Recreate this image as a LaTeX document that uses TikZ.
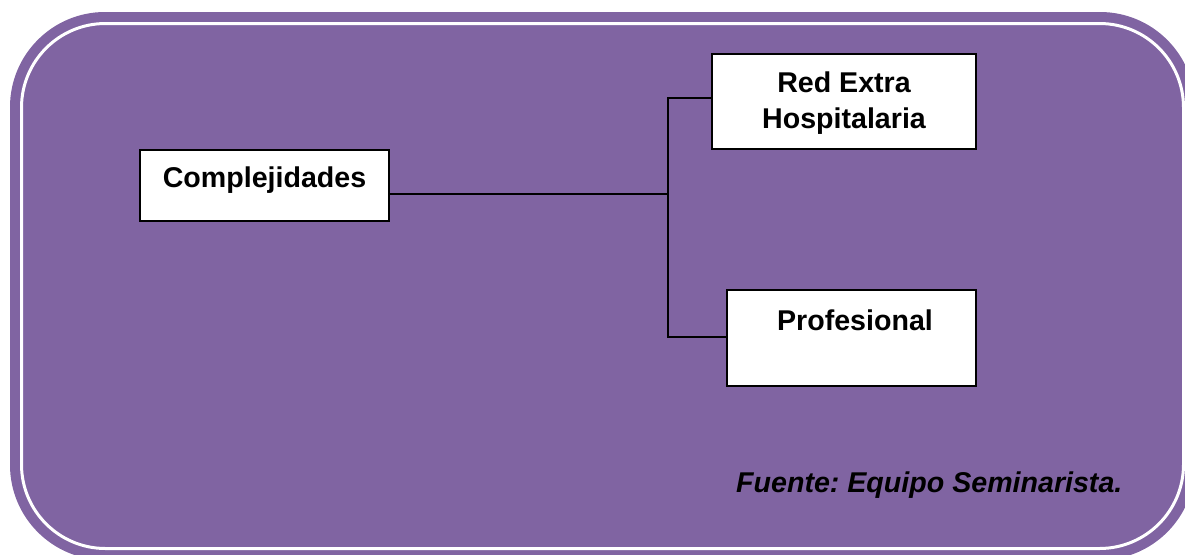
\documentclass[tikz,border=0pt]{standalone}
\usepackage{fontspec}
\setmainfont{Liberation Sans}
\definecolor{framepurple}{HTML}{8064A2}
\begin{document}
\frenchspacing
\begin{tikzpicture}[x=1pt,y=-1pt,
  box/.style={draw=black,line width=2pt,fill=white,inner sep=0pt},
  lbl/.style={inner sep=0pt,anchor=base,font=\fontsize{28.6}{36}\selectfont\bfseries},
  link/.style={draw=black,line width=1.5pt}]
\useasboundingbox (0,0) rectangle (1185,554);
\begin{scope}
  \clip (0,0) rectangle (1185,554);
  % rounded purple panel with an inner white rule
  \fill[framepurple,rounded corners=95pt] (10,12) rectangle (1195,560);
  \draw[white,line width=3pt,rounded corners=84pt] (21.5,23.5) rectangle (1183.5,548.5);
\end{scope}

% boxes
\node[box,minimum width=249pt,minimum height=71pt] (comp) at (264.5,185.5) {};
\node[box,minimum width=264pt,minimum height=95pt] (red) at (844,101.5) {};
\node[box,minimum width=249pt,minimum height=96pt] (prof) at (851.5,338) {};

% labels
\node[lbl] (tcomp) at (264.5,187) {Complejidades};
\node[lbl] (tred1) at (844,92) {Red Extra};
\node[lbl] (tred2) at (844,128) {Hospitalaria};
\node[lbl] (tprof) at (855,330) {Profesional};
\node[lbl,font=\fontsize{28.6}{36}\selectfont\bfseries\itshape,anchor=base west] (src) at (736,492) {Fuente: Equipo Seminarista.};

% connectors
\coordinate (jm) at (668,194);
\coordinate (jt) at (668,98);
\coordinate (jb) at (668,337);
\draw[link] (comp.east |- jm) -- (jm);
\draw[link] (red.west |- jt) -- (jt) -- (jb) -- (prof.west |- jb);
\end{tikzpicture}
\end{document}
